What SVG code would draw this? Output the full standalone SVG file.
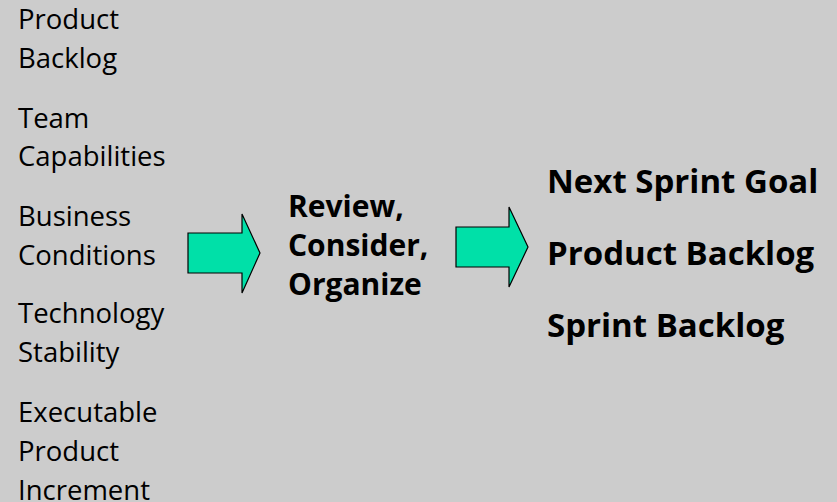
<svg xmlns="http://www.w3.org/2000/svg" width="837" height="502" viewBox="0 0 837 502">
<style>
.in{font-family:"Open Sans","Liberation Sans",sans-serif;font-size:27.5px;fill:#000}
.mid{font-family:"Open Sans","Liberation Sans",sans-serif;font-size:30px;font-weight:bold;fill:#000}
.out{font-family:"Open Sans","Liberation Sans",sans-serif;font-size:33px;font-weight:bold;fill:#000}
.arrow{fill:#00E0A8;stroke:#000;stroke-width:1.2}
</style>
<rect x="0" y="0" width="837" height="502" fill="#CCCCCC"/>
<g id="inputs">
<g id="in-product-backlog"><text class="in" x="18" y="29">Product</text><text class="in" x="18" y="68">Backlog</text></g>
<g id="in-team"><text class="in" x="18" y="128">Team</text><text class="in" x="18" y="166">Capabilities</text></g>
<g id="in-business"><text class="in" x="18" y="226">Business</text><text class="in" x="18" y="265">Conditions</text></g>
<g id="in-technology"><text class="in" x="18" y="323">Technology</text><text class="in" x="18" y="362">Stability</text></g>
<g id="in-increment"><text class="in" x="18" y="422">Executable</text><text class="in" x="18" y="461">Product</text><text class="in" x="18" y="500">Increment</text></g>
</g>
<g id="process"><text class="mid" x="288" y="217">Review,</text><text class="mid" x="288" y="256">Consider,</text><text class="mid" x="288" y="295">Organize</text></g>
<g id="outputs">
<g id="out-goal"><text class="out" x="547" y="193">Next Sprint Goal</text></g>
<g id="out-product-backlog"><text class="out" x="547" y="265">Product Backlog</text></g>
<g id="out-sprint-backlog"><text class="out" x="547" y="337">Sprint Backlog</text></g>
</g>
<g id="connectors">
<polygon class="arrow" points="188,233 242,233 242,214 260,253 242,293 242,273 188,273"/>
<polygon class="arrow" points="456,227 509,227 509,207 528,247 509,287 509,267 456,267"/>
</g>
</svg>
